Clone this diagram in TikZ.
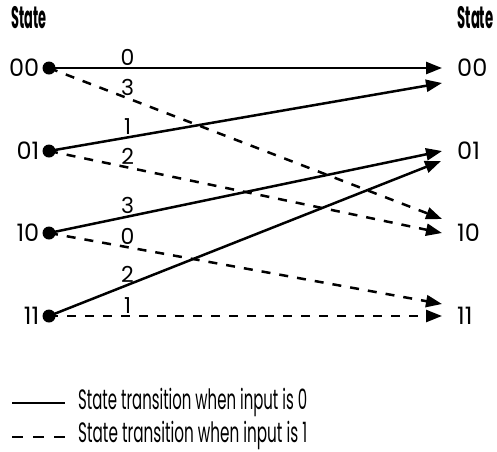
\documentclass[tikz,border=0pt]{standalone}
\usepackage{fontspec}
\setmainfont{Poppins}
\usetikzlibrary{arrows.meta}
\begin{document}
\begin{tikzpicture}[x=1pt,y=-1pt,
  dot/.style={circle,fill=black,inner sep=0pt,minimum size=13pt},
  tr/.style={line width=2.5pt,-{Triangle[length=16pt,width=12pt]}},
  one/.style={dash pattern=on 9pt off 9pt},
  lbl/.style={inner sep=0pt,font=\fontsize{24}{26}\selectfont},
  elbl/.style={pos=0.2,above,inner sep=1.5pt,font=\fontsize{22}{24}\selectfont},
  hdr/.style={font=\fontsize{31}{33}\selectfont\bfseries,anchor=base,inner sep=0pt},
  leg/.style={font=\fontsize{28}{30}\selectfont,anchor=base west,inner sep=0pt}]
\useasboundingbox (0,0) rectangle (497,451);
% headers
\node[hdr] (hl) at (29,28) {\resizebox{35pt}{\height}{State}};
\node[hdr] (hr) at (475.5,28) {\resizebox{36pt}{\height}{State}};
% left and right states
\foreach \n/\y in {00/68,01/151,10/233,11/316}{
  \node[dot] (l\n) at (49,\y) {};
  \node[lbl,anchor=east] (ll\n) at (39.5,\y) {\n};
  \node[lbl,anchor=west] (rl\n) at (457,\y) {\n};
}
% arrow end points
\coordinate (r00a) at (442,68);
\coordinate (r00b) at (442,83);
\coordinate (r01a) at (442,151);
\coordinate (r01b) at (441,161);
\coordinate (r10a) at (442,219);
\coordinate (r10b) at (442,233);
\coordinate (r11a) at (442,304);
\coordinate (r11b) at (442,316);
% transitions
\draw[tr] (l00.center) -- node[elbl] {0} (r00a);
\draw[tr,one] (l00.center) -- node[elbl] {3} (r10a);
\draw[tr] (l01.center) -- node[elbl] {1} (r00b);
\draw[tr,one] (l01.center) -- node[elbl] {2} (r10b);
\draw[tr] (l10.center) -- node[elbl] {3} (r01a);
\draw[tr,one] (l10.center) -- node[elbl] {0} (r11a);
\draw[tr] (l11.center) -- node[elbl] {2} (r01b);
\draw[tr,one] (l11.center) -- node[elbl] {1} (r11b);
% legend
\coordinate (s1) at (12,403);
\coordinate (s2) at (65,403);
\coordinate (d1) at (12,437);
\coordinate (d2) at (65,437);
\draw[line width=2.5pt] (s1) -- (s2);
\draw[line width=2.5pt,dash pattern=on 10.5pt off 10.5pt] (d1) -- (d2);
\node[leg] (t1) at (78,409) {\resizebox{229pt}{\height}{State transition when input is 0}};
\node[leg] (t2) at (78,442) {\resizebox{229pt}{\height}{State transition when input is 1}};
\end{tikzpicture}
\end{document}
